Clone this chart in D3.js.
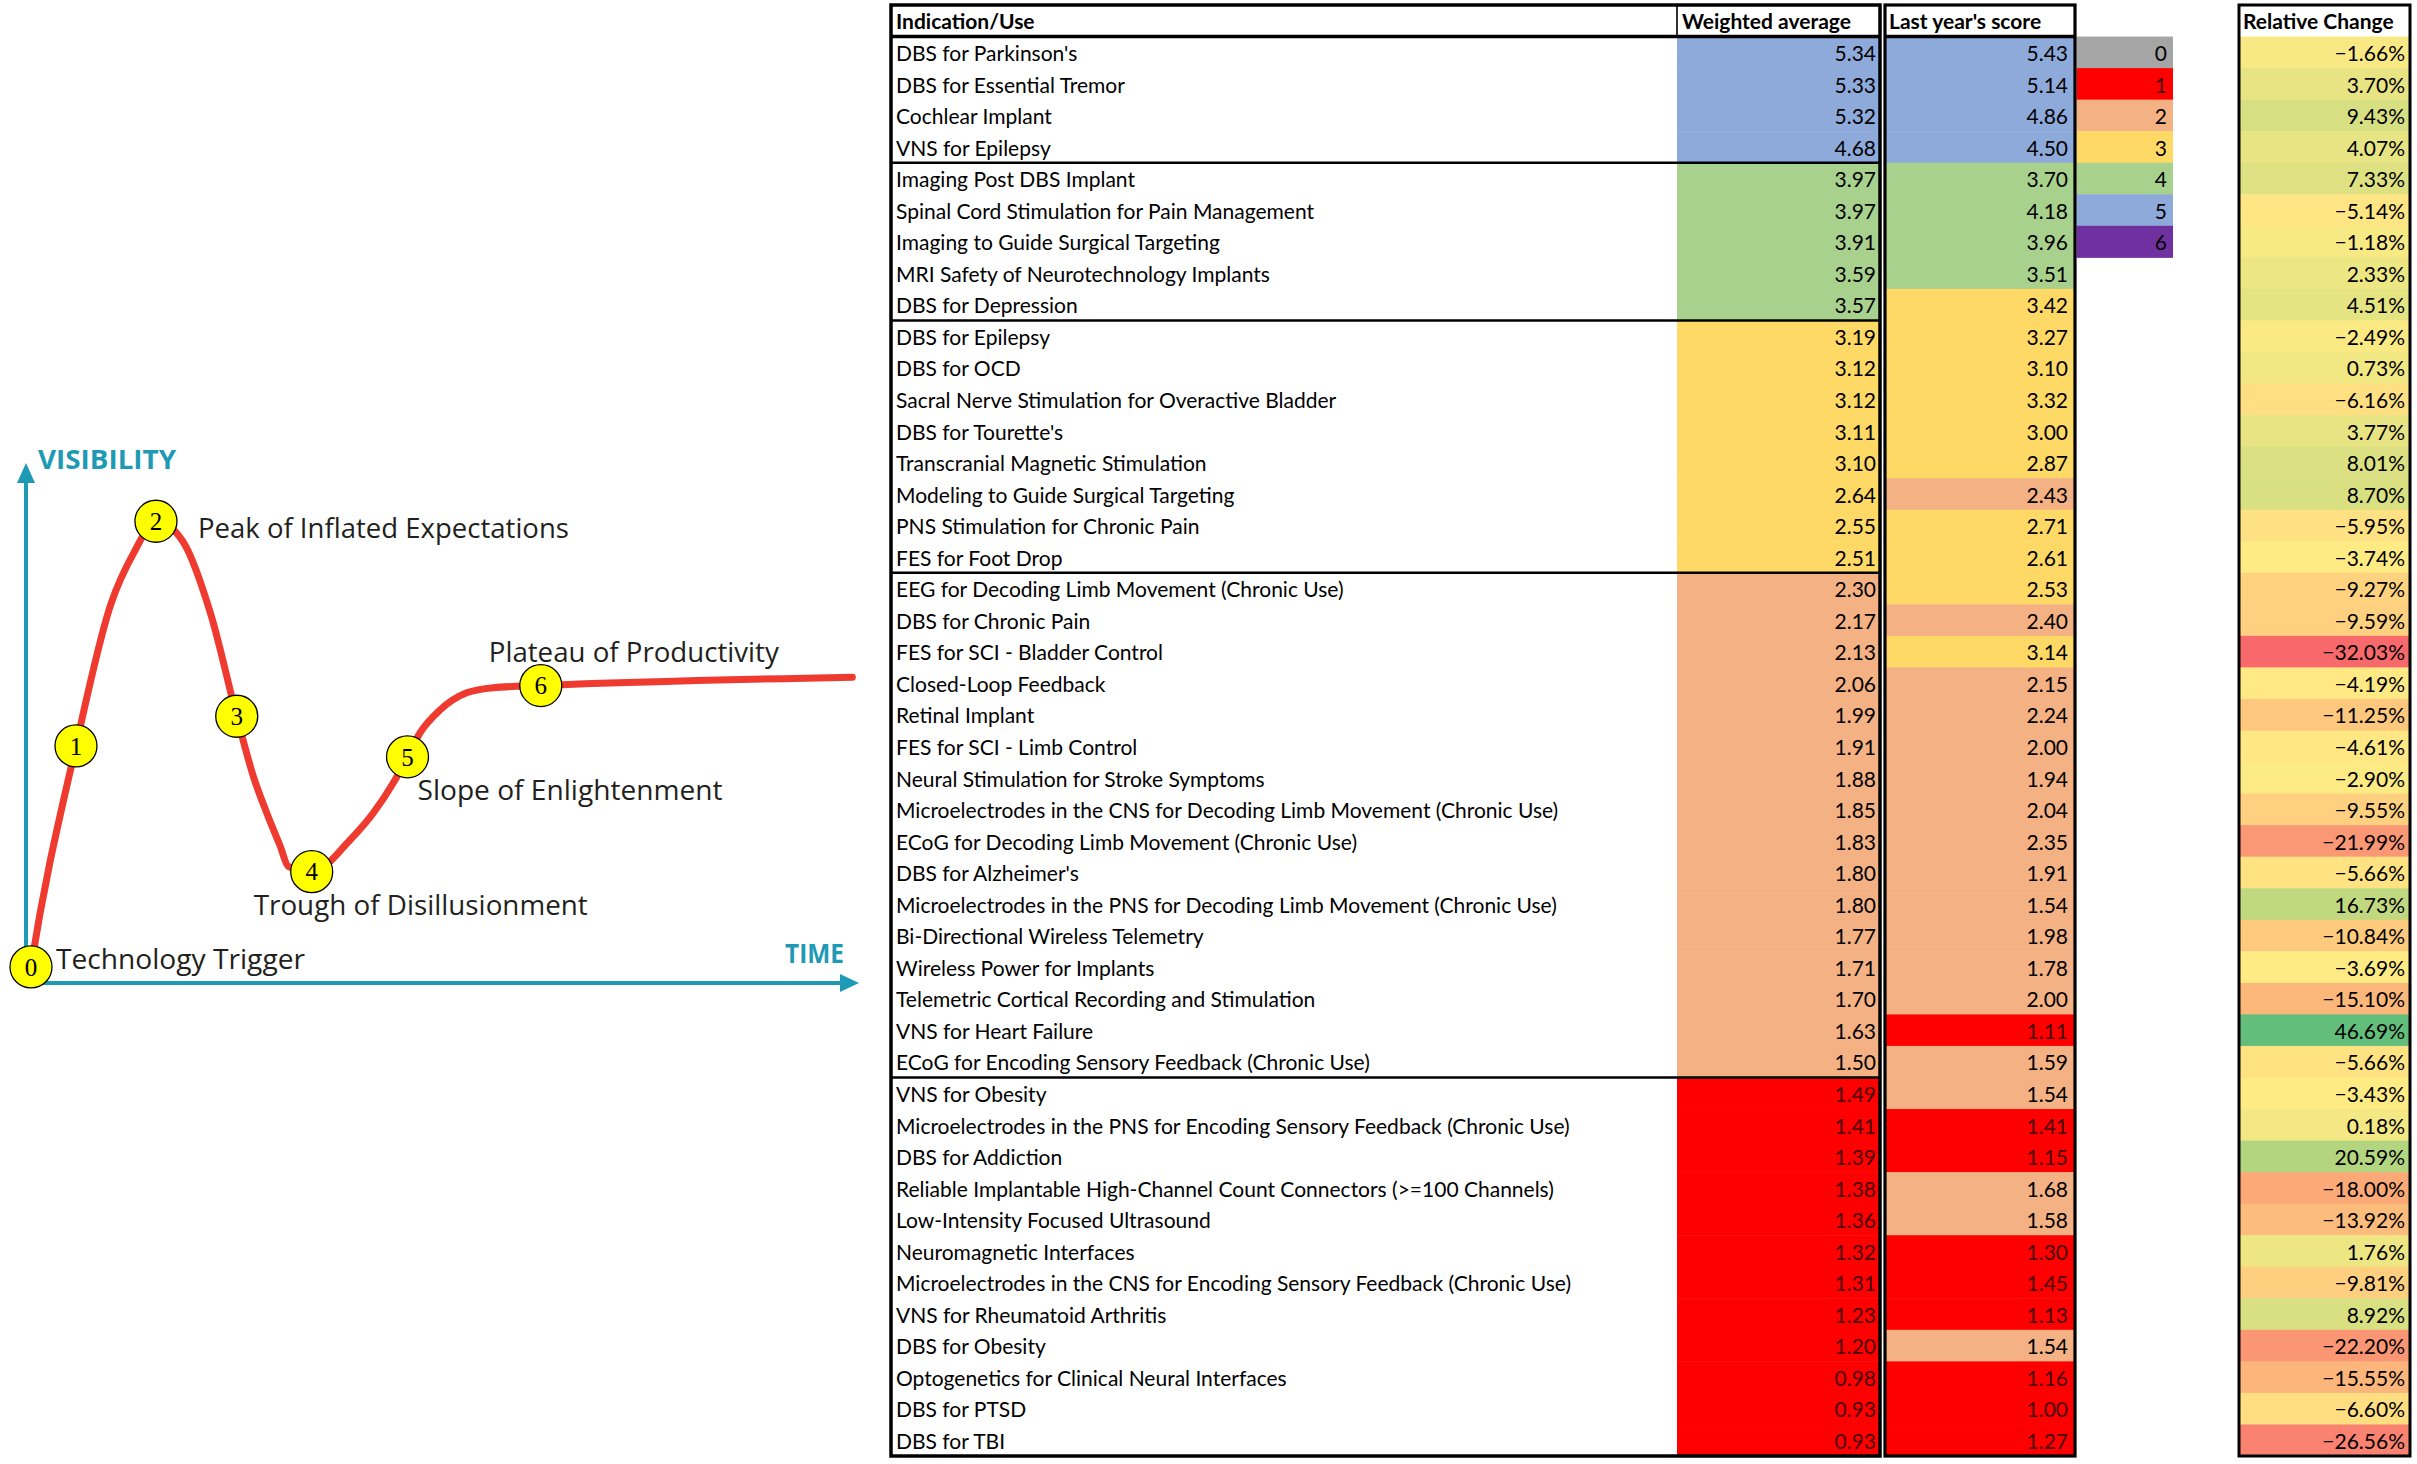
<!DOCTYPE html>
<html>
<head>
<meta charset="utf-8">
<script src="https://cdn.jsdelivr.net/npm/d3@7"></script>
<style>
  html, body { margin: 0; padding: 0; background: #fff; }
  svg { display: block; }
</style>
</head>
<body>
<svg id="chart"></svg>
<script>
const WIDTH = 2417
const HEIGHT = 1464

// ---- hype cycle ----
const stageNumbers = [0, 1, 2, 3, 4, 5, 6]
const stageTime = [0.6, 6.0, 15.6, 25.3, 34.3, 45.8, 61.8]
const stageVisibility = [3.1, 45.6, 88.8, 51.3, 21.4, 43.5, 57.2]
const stageLabels = ['Technology Trigger', '', 'Peak of Inflated Expectations', '',
    'Trough of Disillusionment', 'Slope of Enlightenment', 'Plateau of Productivity']
const curveTime = [0.3, 0.6, 6.0, 10.2, 13.0, 15.6, 18.8, 22.2, 25.3, 27.3, 28.9, 30.5, 31.5,
    34.3, 38.9, 41.7, 44.1, 45.8, 47.3, 49.7, 52.9, 56.1, 61.8, 99.2]
const curveVisibility = [0, 3.1, 45.6, 72.9, 82.9, 88.8, 85.0, 70.8, 51.3, 39.7, 32.7, 26.4, 22.4,
    21.4, 27.5, 32.7, 38.5, 43.5, 48.1, 52.5, 55.8, 56.8, 57.2, 58.8]

// ---- table ----
const headers = ['Indication/Use', 'Weighted average', "Last year's score", 'Relative Change']
const indications = [
    "DBS for Parkinson's", 'DBS for Essential Tremor', 'Cochlear Implant', 'VNS for Epilepsy',
    'Imaging Post DBS Implant', 'Spinal Cord Stimulation for Pain Management',
    'Imaging to Guide Surgical Targeting', 'MRI Safety of Neurotechnology Implants',
    'DBS for Depression', 'DBS for Epilepsy', 'DBS for OCD',
    'Sacral Nerve Stimulation for Overactive Bladder', "DBS for Tourette's",
    'Transcranial Magnetic Stimulation', 'Modeling to Guide Surgical Targeting',
    'PNS Stimulation for Chronic Pain', 'FES for Foot Drop',
    'EEG for Decoding Limb Movement (Chronic Use)', 'DBS for Chronic Pain',
    'FES for SCI - Bladder Control', 'Closed-Loop Feedback', 'Retinal Implant',
    'FES for SCI - Limb Control', 'Neural Stimulation for Stroke Symptoms',
    'Microelectrodes in the CNS for Decoding Limb Movement (Chronic Use)',
    'ECoG for Decoding Limb Movement (Chronic Use)', "DBS for Alzheimer's",
    'Microelectrodes in the PNS for Decoding Limb Movement (Chronic Use)',
    'Bi-Directional Wireless Telemetry', 'Wireless Power for Implants',
    'Telemetric Cortical Recording and Stimulation', 'VNS for Heart Failure',
    'ECoG for Encoding Sensory Feedback (Chronic Use)', 'VNS for Obesity',
    'Microelectrodes in the PNS for Encoding Sensory Feedback (Chronic Use)',
    'DBS for Addiction', 'Reliable Implantable High-Channel Count Connectors (>=100 Channels)',
    'Low-Intensity Focused Ultrasound', 'Neuromagnetic Interfaces',
    'Microelectrodes in the CNS for Encoding Sensory Feedback (Chronic Use)',
    'VNS for Rheumatoid Arthritis', 'DBS for Obesity',
    'Optogenetics for Clinical Neural Interfaces', 'DBS for PTSD', 'DBS for TBI'
]
const weightedAverage = [5.34, 5.33, 5.32, 4.68, 3.97, 3.97, 3.91, 3.59, 3.57, 3.19, 3.12, 3.12,
    3.11, 3.10, 2.64, 2.55, 2.51, 2.30, 2.17, 2.13, 2.06, 1.99, 1.91, 1.88, 1.85, 1.83, 1.80,
    1.80, 1.77, 1.71, 1.70, 1.63, 1.50, 1.49, 1.41, 1.39, 1.38, 1.36, 1.32, 1.31, 1.23, 1.20,
    0.98, 0.93, 0.93]
const lastYearScore = [5.43, 5.14, 4.86, 4.50, 3.70, 4.18, 3.96, 3.51, 3.42, 3.27, 3.10, 3.32,
    3.00, 2.87, 2.43, 2.71, 2.61, 2.53, 2.40, 3.14, 2.15, 2.24, 2.00, 1.94, 2.04, 2.35, 1.91,
    1.54, 1.98, 1.78, 2.00, 1.11, 1.59, 1.54, 1.41, 1.15, 1.68, 1.58, 1.30, 1.45, 1.13, 1.54,
    1.16, 1.00, 1.27]
const relativeChange = [-1.66, 3.70, 9.43, 4.07, 7.33, -5.14, -1.18, 2.33, 4.51, -2.49, 0.73,
    -6.16, 3.77, 8.01, 8.70, -5.95, -3.74, -9.27, -9.59, -32.03, -4.19, -11.25, -4.61, -2.90,
    -9.55, -21.99, -5.66, 16.73, -10.84, -3.69, -15.10, 46.69, -5.66, -3.43, 0.18, 20.59,
    -18.00, -13.92, 1.76, -9.81, 8.92, -22.20, -15.55, -6.60, -26.56]
const scoreLevels = [0, 1, 2, 3, 4, 5, 6]

const LEVEL_COLORS = ['#a5a5a5', '#ff0000', '#f4b183', '#ffd966', '#a9d18e', '#8eaadb', '#7030a0']
const TEAL = '#1f9ab5'
const CURVE_RED = '#ef3b2f'
const TABLE_FONT = 'Lato, "Open Sans", sans-serif'
const HYPE_FONT = '"Open Sans", "Noto Sans", sans-serif'

const svg = d3.select('#chart').attr('width', WIDTH).attr('height', HEIGHT)
svg.append('rect').attr('width', WIDTH).attr('height', HEIGHT).attr('fill', '#fff')

// ================= Hype cycle =================
const tScale = d3.scaleLinear().domain([0, 100]).range([26, 859])
const vScale = d3.scaleLinear().domain([0, 100]).range([983, 463])

const hype = svg.append('g').attr('class', 'hype')

// axes: bare domain lines with arrowheads
hype.append('g')
    .attr('transform', `translate(0,${vScale(0)})`)
    .call(d3.axisBottom(tScale).tickValues([]).tickSizeOuter(0))
    .call(g => g.select('.domain').attr('stroke', TEAL).attr('stroke-width', 4)
        .attr('d', `M${tScale(0) - 2},0H${tScale(100) - 12}`))
hype.append('g')
    .attr('transform', `translate(${tScale(0)},0)`)
    .call(d3.axisLeft(vScale).tickValues([]).tickSizeOuter(0))
    .call(g => g.select('.domain').attr('stroke', TEAL).attr('stroke-width', 4)
        .attr('d', `M0,${vScale(0) + 2}V${vScale(100) + 12}`))

const xTip = [tScale(100), vScale(0)]
hype.append('path')
    .attr('d', `M${xTip[0]},${xTip[1]}L${xTip[0] - 19},${xTip[1] - 9}L${xTip[0] - 19},${xTip[1] + 9}Z`)
    .attr('fill', TEAL)
const yTip = [tScale(0), vScale(100)]
hype.append('path')
    .attr('d', `M${yTip[0]},${yTip[1]}L${yTip[0] - 9},${yTip[1] + 20}L${yTip[0] + 9},${yTip[1] + 20}Z`)
    .attr('fill', TEAL)

hype.append('text')
    .attr('x', tScale(0) + 12).attr('y', vScale(100) + 6)
    .attr('font-family', HYPE_FONT).attr('font-weight', 700).attr('font-size', 27)
    .attr('fill', TEAL)
    .attr('textLength', 138).attr('lengthAdjust', 'spacingAndGlyphs')
    .text('VISIBILITY')
hype.append('text')
    .attr('x', tScale(100) - 74).attr('y', vScale(0) - 20)
    .attr('font-family', HYPE_FONT).attr('font-weight', 700).attr('font-size', 27)
    .attr('fill', TEAL)
    .attr('textLength', 59).attr('lengthAdjust', 'spacingAndGlyphs')
    .text('TIME')

// curve
const curvePts = curveTime.map((t, i) => ({ t, v: curveVisibility[i] }))
const curveLine = d3.line()
    .x(d => tScale(d.t))
    .y(d => vScale(d.v))
    .curve(d3.curveMonotoneX)
hype.append('path').datum(curvePts)
    .attr('fill', 'none')
    .attr('stroke', CURVE_RED)
    .attr('stroke-width', 7)
    .attr('stroke-linecap', 'round')
    .attr('d', curveLine)

// stage labels (offset from stage marker centre)
const LABEL_LAYOUT = {
    0: { dx: 25, dy: 2, w: 249 },
    2: { dx: 42, dy: 17, w: 371 },
    4: { dx: -58, dy: 43, w: 334 },
    5: { dx: 10, dy: 43, w: 305 },
    6: { dx: -52, dy: -24, w: 290 }
}
const stages = stageNumbers.map((n, i) => ({
    n, t: stageTime[i], v: stageVisibility[i], label: stageLabels[i]
}))
hype.selectAll('.stage-label').data(stages.filter(d => d.label)).enter()
    .append('text').attr('class', 'stage-label')
    .attr('x', d => tScale(d.t) + LABEL_LAYOUT[d.n].dx)
    .attr('y', d => vScale(d.v) + LABEL_LAYOUT[d.n].dy)
    .attr('font-family', HYPE_FONT).attr('font-size', 27)
    .attr('fill', '#231f20')
    .attr('textLength', d => LABEL_LAYOUT[d.n].w).attr('lengthAdjust', 'spacingAndGlyphs')
    .text(d => d.label)

const stageG = hype.selectAll('.stage').data(stages).enter()
    .append('g').attr('class', 'stage')
    .attr('transform', d => `translate(${tScale(d.t)},${vScale(d.v)})`)
stageG.append('circle')
    .attr('r', 21)
    .attr('fill', '#ffff00')
    .attr('stroke', '#000').attr('stroke-width', 1.3)
stageG.append('text')
    .attr('text-anchor', 'middle').attr('dy', '0.35em')
    .attr('font-family', '"Liberation Serif", "DejaVu Serif", serif').attr('font-size', 25)
    .attr('fill', '#000')
    .text(d => d.n)

// ================= Table =================
const nRows = indications.length
const rowScale = d3.scaleBand().domain(d3.range(nRows + 1)).range([5, 1456])
const rowH = rowScale.bandwidth()
const levelOf = d3.scaleThreshold().domain([0.5, 1.5, 2.5, 3.5, 4.5, 5.5]).range(scoreLevels)
const levelColor = d3.scaleOrdinal().domain(scoreLevels).range(LEVEL_COLORS)
const changeColor = d3.scaleLinear()
    .domain([d3.min(relativeChange), d3.median(relativeChange), d3.max(relativeChange)])
    .range(['#f8696b', '#ffeb84', '#63be7b'])
const fmt2 = d3.format('.2f')

const COL = {
    boxA: [891, 1880],
    name: 896,
    weighted: [1677, 1880],
    boxB: [1885, 2075],
    legend: [2076.5, 2173],
    boxC: [2239, 2410]
}
const BASE = 24.5
const textColor = lvl => lvl === 1 ? '#4a0000' : '#000'

const rows = indications.map((name, i) => ({
    i, name, w: weightedAverage[i], last: lastYearScore[i], ch: relativeChange[i],
    y: rowScale(i + 1)
}))

const table = svg.append('g').attr('class', 'table')
    .attr('font-family', TABLE_FONT).attr('font-size', 21)

// cell fills
table.selectAll('.w-cell').data(rows).enter().append('rect')
    .attr('x', COL.weighted[0]).attr('y', d => d.y)
    .attr('width', COL.weighted[1] - COL.weighted[0]).attr('height', rowH + 0.5)
    .attr('fill', d => levelColor(levelOf(d.w)))
table.selectAll('.l-cell').data(rows).enter().append('rect')
    .attr('x', COL.boxB[0]).attr('y', d => d.y)
    .attr('width', COL.boxB[1] - COL.boxB[0]).attr('height', rowH + 0.5)
    .attr('fill', d => levelColor(levelOf(d.last)))
table.selectAll('.c-cell').data(rows).enter().append('rect')
    .attr('x', COL.boxC[0]).attr('y', d => d.y)
    .attr('width', COL.boxC[1] - COL.boxC[0]).attr('height', rowH + 0.5)
    .attr('fill', d => changeColor(d.ch))

// legend swatches
table.selectAll('.legend-cell').data(scoreLevels).enter().append('rect')
    .attr('x', COL.legend[0]).attr('y', d => rowScale(d + 1))
    .attr('width', COL.legend[1] - COL.legend[0]).attr('height', rowH + 0.5)
    .attr('fill', d => levelColor(d))
table.selectAll('.legend-text').data(scoreLevels).enter().append('text')
    .attr('x', COL.legend[1] - 6).attr('y', d => rowScale(d + 1) + BASE)
    .attr('text-anchor', 'end')
    .attr('fill', d => textColor(d))
    .text(d => d)

// cell texts
table.selectAll('.name').data(rows).enter().append('text')
    .attr('x', COL.name).attr('y', d => d.y + BASE)
    .attr('fill', '#000')
    .text(d => d.name)
table.selectAll('.w-text').data(rows).enter().append('text')
    .attr('x', COL.weighted[1] - 4).attr('y', d => d.y + BASE)
    .attr('text-anchor', 'end')
    .attr('fill', d => textColor(levelOf(d.w)))
    .text(d => fmt2(d.w))
table.selectAll('.l-text').data(rows).enter().append('text')
    .attr('x', COL.boxB[1] - 7).attr('y', d => d.y + BASE)
    .attr('text-anchor', 'end')
    .attr('fill', d => textColor(levelOf(d.last)))
    .text(d => fmt2(d.last))
table.selectAll('.c-text').data(rows).enter().append('text')
    .attr('x', COL.boxC[1] - 5).attr('y', d => d.y + BASE)
    .attr('text-anchor', 'end')
    .attr('fill', '#000')
    .text(d => fmt2(d.ch) + '%')

// headers
const headerX = [COL.name, COL.weighted[0] + 5, COL.boxB[0] + 4, COL.boxC[0] + 4]
table.selectAll('.header').data(headers).enter().append('text')
    .attr('x', (d, i) => headerX[i]).attr('y', rowScale(0) + 23.5)
    .attr('font-weight', 700).attr('fill', '#000')
    .text(d => d)

// group separators where the weighted-average colour level changes
const breaks = rows.filter((d, i) => i > 0 && levelOf(d.w) !== levelOf(rows[i - 1].w))
table.selectAll('.sep').data(breaks).enter().append('line')
    .attr('x1', COL.boxA[0]).attr('x2', COL.boxA[1])
    .attr('y1', d => d.y).attr('y2', d => d.y)
    .attr('stroke', '#000').attr('stroke-width', 2.6)

// header lines
const tableTop = rowScale(0)
const headBottom = rowScale(1)
const tableBottom = rowScale(nRows) + rowH
table.append('line')
    .attr('x1', COL.weighted[0]).attr('x2', COL.weighted[0])
    .attr('y1', tableTop).attr('y2', headBottom)
    .attr('stroke', '#000').attr('stroke-width', 1.6)
;[COL.boxA, COL.boxB].forEach(c => {
    table.append('line')
        .attr('x1', c[0]).attr('x2', c[1])
        .attr('y1', headBottom).attr('y2', headBottom)
        .attr('stroke', '#000').attr('stroke-width', 3.5)
})

// box outlines
;[[COL.boxA, 3.5], [COL.boxB, 3.2], [COL.boxC, 3]].forEach(([c, sw]) => {
    table.append('rect')
        .attr('x', c[0]).attr('y', tableTop)
        .attr('width', c[1] - c[0]).attr('height', tableBottom - tableTop)
        .attr('fill', 'none')
        .attr('stroke', '#000').attr('stroke-width', sw)
})
</script>
</body>
</html>
